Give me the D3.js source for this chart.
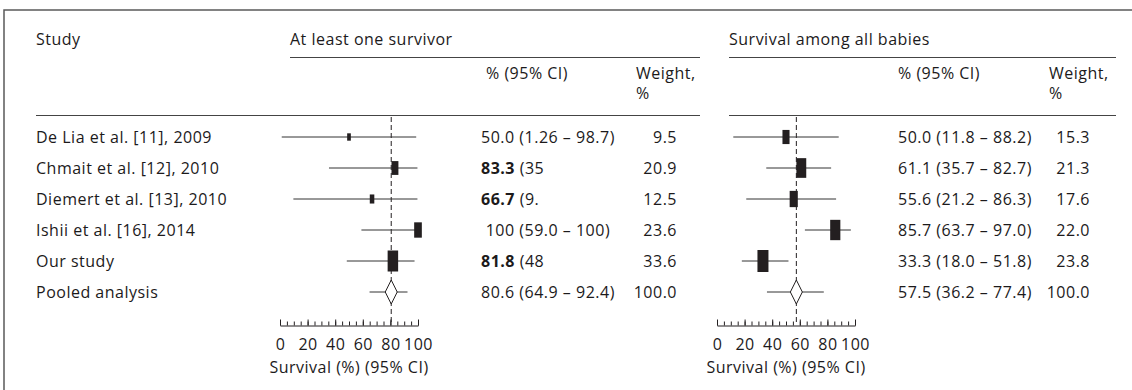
<!DOCTYPE html>
<html>
<head>
<meta charset="utf-8">
<script src="https://cdn.jsdelivr.net/npm/d3@7"></script>
<style>
  html, body { margin: 0; padding: 0; background: #fff; }
  text { font-family: 'Open Sans', sans-serif; font-size: 16px; letter-spacing: 0.5px; fill: #1c1a1b; white-space: pre; }
</style>
</head>
<body>
<div id="chart"></div>
<script>
// study labels, one per row; the pooled row comes last
var studies = ['De Lia et al. [11], 2009', 'Chmait et al. [12], 2010', 'Diemert et al. [13], 2010', 'Ishii et al. [16], 2014', 'Our study'];
var pooledLabel = 'Pooled analysis';

// at least one survivor
var oneEst = [50.0, 83.3, 66.7, 100, 81.8];
var oneLow = [1.26, 35.5, 9.7, 59.0, 48.4];
var oneHigh = [98.7, 99.6, 99.6, 100, 97.5];
var oneWeight = [9.5, 20.9, 12.5, 23.6, 33.6];
var oneBold = ['', '83.3', '66.7', '', '81.8'];
var oneRest = ['50.0 (1.26 – 98.7)', ' (35', ' (9.', ' 100 (59.0 – 100)', ' (48'];
var onePooled = [80.6, 64.9, 92.4];
var onePooledText = '80.6 (64.9 – 92.4)';

// survival among all babies
var allEst = [50.0, 61.1, 55.6, 85.7, 33.3];
var allLow = [11.8, 35.7, 21.2, 63.7, 18.0];
var allHigh = [88.2, 82.7, 86.3, 97.0, 51.8];
var allWeight = [15.3, 21.3, 17.6, 22.0, 23.8];
var allBold = ['', '', '', '', ''];
var allRest = ['50.0 (11.8 – 88.2)', '61.1 (35.7 – 82.7)', '55.6 (21.2 – 86.3)', '85.7 (63.7 – 97.0)', '33.3 (18.0 – 51.8)'];
var allPooled = [57.5, 36.2, 77.4];
var allPooledText = '57.5 (36.2 – 77.4)';

var pooledWeight = '100.0';
var axisTicks = [0, 20, 40, 60, 80, 100];
var axisTitle = 'Survival (%) (95% CI)';
var headStudy = 'Study';
var headCI = '% (95% CI)';

(function() {

  'use strict'

  var width = 1132, height = 390;
  var ink = '#231f20';

  var svg = d3.select('#chart').append('svg')
    .attr('width', width)
    .attr('height', height);

  var rows = studies.concat([pooledLabel]);
  var y = d3.scaleBand().domain(rows).range([121.5, 307.5]);
  var mid = function(name) { return y(name) + y.bandwidth() / 2; };

  // frame: top and left edges only
  svg.append('path')
    .attr('d', 'M4,390V10H1132')
    .attr('fill', 'none')
    .attr('stroke', '#5a5a5a')
    .attr('stroke-width', 1.5);

  // study column
  svg.append('text').attr('x', 36).attr('y', 45).text(headStudy);
  svg.selectAll('.study').data(rows).enter().append('text')
    .attr('class', 'study')
    .attr('x', 36)
    .attr('y', function(d) { return mid(d); })
    .attr('dy', '0.35em')
    .text(String);

  var rule = function(x1, x2, yy) {
    svg.append('line')
      .attr('x1', x1).attr('x2', x2)
      .attr('y1', yy).attr('y2', yy)
      .attr('stroke', '#444')
      .attr('stroke-width', 1);
  };
  rule(36, 700, 115.5);

  var Panel = function(o) {
    this.o = o;
    this.x = d3.scaleLinear().domain([0, 100]).range([o.x0, o.x0 + 138]);
    this.h = d3.scaleLinear().domain([0, d3.max(o.weight)]).range([o.hMin, o.hMax]);
  };

  Panel.prototype.draw = function() {
    var o = this.o, x = this.x, h = this.h;
    var data = studies.map(function(s, i) {
      return { name: s, est: o.est[i], low: o.low[i], high: o.high[i], w: o.weight[i], bold: o.bold[i], rest: o.rest[i] };
    });

    // headers
    svg.append('text').attr('x', o.titleX).attr('y', 45).text(o.title);
    rule(o.titleX, o.ruleEnd, 57.5);
    if (o.titleX > 700) rule(o.titleX, o.ruleEnd, 115.5);
    svg.append('text').attr('x', o.ciHeadX).attr('y', 79).text(headCI);
    svg.append('text').attr('x', o.wHeadX).attr('y', 79).text('Weight,');
    svg.append('text').attr('x', o.wHeadX).attr('y', 99).text('%');

    // reference line at the pooled estimate
    svg.append('line')
      .attr('x1', x(o.pooled[0])).attr('x2', x(o.pooled[0]))
      .attr('y1', 117).attr('y2', 325)
      .attr('stroke', ink)
      .attr('stroke-width', 1)
      .attr('stroke-dasharray', '5,3');

    var g = svg.append('g');

    g.selectAll('.ci').data(data).enter().append('line')
      .attr('class', 'ci')
      .attr('x1', function(d) { return x(d.low); })
      .attr('x2', function(d) { return x(d.high); })
      .attr('y1', function(d) { return mid(d.name); })
      .attr('y2', function(d) { return mid(d.name); })
      .attr('stroke', '#333')
      .attr('stroke-width', 1);

    g.selectAll('.box').data(data).enter().append('rect')
      .attr('class', 'box')
      .attr('x', function(d) { return x(d.est) - h(d.w) / 4; })
      .attr('y', function(d) { return mid(d.name) - h(d.w) / 2; })
      .attr('width', function(d) { return h(d.w) / 2; })
      .attr('height', function(d) { return h(d.w); })
      .attr('fill', ink);

    // pooled diamond
    var py = mid(pooledLabel);
    g.append('line')
      .attr('x1', x(o.pooled[1])).attr('x2', x(o.pooled[2]))
      .attr('y1', py).attr('y2', py)
      .attr('stroke', '#333');
    var px = x(o.pooled[0]);
    g.append('path')
      .attr('d', 'M' + (px - 6) + ',' + py + 'L' + px + ',' + (py - 12) + 'L' + (px + 6) + ',' + py + 'L' + px + ',' + (py + 12) + 'Z')
      .attr('fill', '#fff')
      .attr('stroke', ink)
      .attr('stroke-width', 1);

    // estimate text
    var t = svg.selectAll(null).data(data).enter().append('text')
      .attr('x', o.ciX)
      .attr('y', function(d) { return mid(d.name); })
      .attr('dy', '0.35em');
    t.append('tspan').attr('font-weight', 'bold').text(function(d) { return d.bold; });
    t.append('tspan').text(function(d) { return d.rest; });
    svg.append('text').attr('x', o.ciX).attr('y', py).attr('dy', '0.35em').text(o.pooledText);

    svg.selectAll(null).data(data).enter().append('text')
      .attr('x', o.wX)
      .attr('y', function(d) { return mid(d.name); })
      .attr('dy', '0.35em')
      .attr('text-anchor', 'end')
      .text(function(d) { return d.w.toFixed(1); });
    svg.append('text').attr('x', o.wX).attr('y', py).attr('dy', '0.35em')
      .attr('text-anchor', 'end').text(pooledWeight);

    // axis: minor ticks every 5, labelled ticks every 20
    svg.append('g')
      .attr('transform', 'translate(0,325.5)')
      .call(d3.axisBottom(x).ticks(20).tickSizeInner(-4).tickSizeOuter(0).tickFormat(''))
      .call(function(a) { a.selectAll('line, path').attr('stroke', ink); });
    svg.append('g')
      .attr('transform', 'translate(0,325.5)')
      .call(d3.axisBottom(x).tickValues(axisTicks).tickSizeInner(-6).tickSizeOuter(0).tickPadding(13))
      .call(function(a) {
        a.select('.domain').remove();
        a.selectAll('line').attr('stroke', ink);
        a.selectAll('text').attr('font-family', null).attr('font-size', null).attr('fill', null);
      });
    svg.append('text')
      .attr('x', x(50))
      .attr('y', 373)
      .attr('text-anchor', 'middle')
      .text(axisTitle);
  };

  new Panel({
    title: 'At least one survivor', titleX: 290, ruleEnd: 700,
    x0: 280, hMin: 2, hMax: 21,
    est: oneEst, low: oneLow, high: oneHigh, weight: oneWeight,
    bold: oneBold, rest: oneRest, pooled: onePooled, pooledText: onePooledText,
    ciHeadX: 486, ciX: 481, wHeadX: 636, wX: 677
  }).draw();

  new Panel({
    title: 'Survival among all babies', titleX: 729, ruleEnd: 1116,
    x0: 717, hMin: 0, hMax: 22,
    est: allEst, low: allLow, high: allHigh, weight: allWeight,
    bold: allBold, rest: allRest, pooled: allPooled, pooledText: allPooledText,
    ciHeadX: 898, ciX: 898, wHeadX: 1049, wX: 1090
  }).draw();

})();
</script>
</body>
</html>
